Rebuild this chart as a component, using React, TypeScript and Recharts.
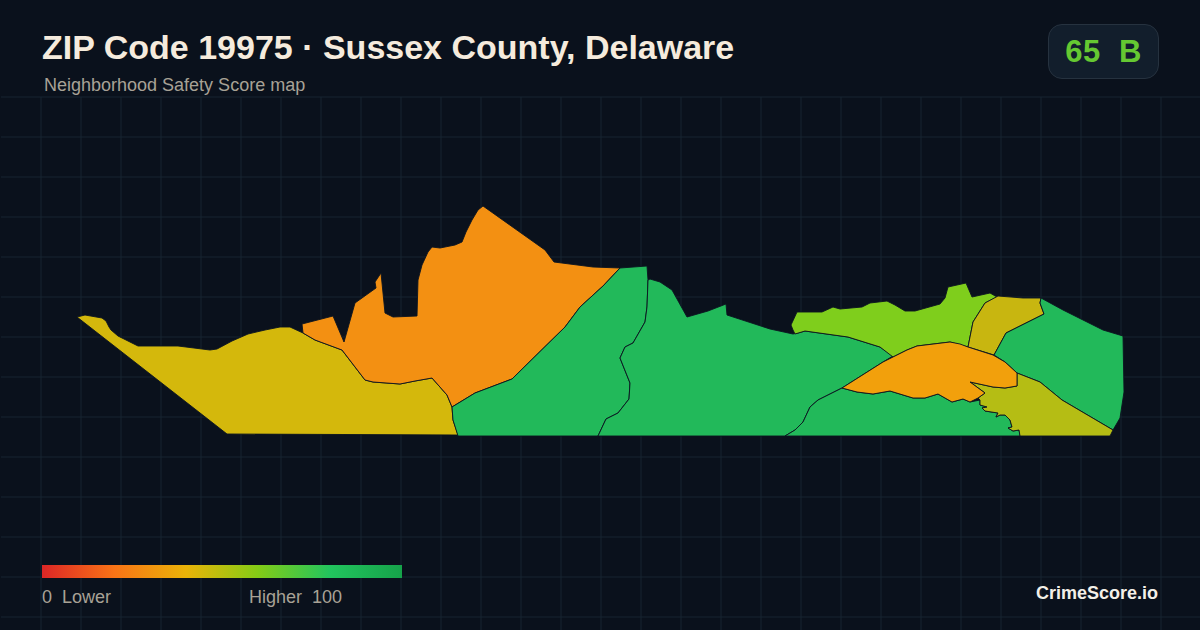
import { ComposedChart, Scatter, XAxis, YAxis, CartesianGrid } from 'recharts';

// map units: east, north
const westYellow = [[77,313],[85,315],[102,312],[106,309],[109,303],[111,300],[118,294],[138,284],[178,284],[210,280],[217,281],[232,289],[248,296],[265,300],[280,303],[290,303],[303,297],[315,290],[342,280],[365,250],[373,248],[400,246],[415,249],[432,252],[447,235],[452,223],[453,210],[458,195],[227,196]];
const northOrange = [[302,306],[333,314],[344,288],[355,327],[376,342],[375,348],[381,357],[385,317],[393,313],[417,314],[418,350],[422,365],[428,378],[432,383],[440,382],[455,385],[462,388],[466,398],[472,410],[478,420],[483,424],[545,380],[554,368],[593,363],[620,362],[603,344],[580,323],[565,303],[512,251],[475,237],[452,223],[447,235],[432,252],[415,249],[400,246],[373,248],[365,250],[342,280],[315,290],[303,297]];
const centerGreen = [[452,223],[475,237],[512,251],[565,303],[580,323],[603,344],[620,362],[647,364],[648,350],[647,323],[645,308],[633,287],[625,283],[620,272],[630,247],[629,231],[618,217],[606,211],[598,194],[458,194],[453,210]];
const midGreen = [[598,194],[606,211],[618,217],[629,231],[630,247],[620,272],[625,283],[633,287],[645,308],[647,323],[648,350],[650,351],[660,348],[672,340],[687,313],[708,319],[726,326],[727,315],[770,301],[793,296],[798,297],[805,299],[848,293],[880,283],[893,274],[883,268],[842,242],[818,230],[810,223],[803,208],[795,200],[785,194]];
const southGreen = [[785,194],[795,200],[803,208],[810,223],[818,230],[842,242],[857,238],[873,236],[890,239],[913,232],[925,232],[938,236],[952,228],[963,231],[970,228],[980,230],[980,225],[987,223],[982,222],[985,219],[998,217],[996,213],[1000,215],[1005,215],[1010,210],[1012,203],[1008,202],[1013,199],[1019,200],[1020,195],[1020,194]];
const shoreOlive = [[980,230],[978,232],[985,237],[970,248],[993,243],[1005,242],[1017,244],[1017,257],[1040,248],[1062,230],[1113,200],[1110,194],[1020,194],[1019,200],[1013,199],[1008,202],[1012,203],[1010,210],[1005,215],[1000,215],[996,213],[998,217],[985,219],[982,222],[987,223],[980,225]];
const bayOrange = [[842,242],[883,268],[893,273],[907,280],[917,284],[950,288],[960,286],[968,283],[993,275],[1005,268],[1017,257],[1017,244],[1005,242],[993,243],[970,248],[985,237],[978,232],[970,228],[963,231],[952,228],[938,236],[925,232],[913,232],[890,239],[873,236],[857,238]];
const northLime = [[793,300],[791,305],[797,318],[822,318],[833,323],[840,321],[862,323],[870,327],[887,329],[895,325],[905,319],[915,319],[940,326],[945,332],[948,343],[966,347],[972,333],[990,337],[997,333],[985,327],[973,308],[968,283],[950,288],[917,284],[907,280],[893,273],[880,283],[848,293],[805,299],[795,296]];
const northOlive = [[998,334],[1023,332],[1041,332],[1040,327],[1044,316],[1006,297],[994,275],[968,283],[973,308],[985,327]];
const eastGreen = [[1041,332],[1063,320],[1103,300],[1123,294],[1124,238],[1120,212],[1113,200],[1062,230],[1040,248],[1017,257],[1005,268],[994,275],[1006,297],[1044,316],[1040,327]];

const regions = [
  { name: 'westYellow', points: westYellow, color: '#d4b80c' },
  { name: 'northOrange', points: northOrange, color: '#f39012' },
  { name: 'centerGreen', points: centerGreen, color: '#22b95a' },
  { name: 'midGreen', points: midGreen, color: '#22b95a' },
  { name: 'southGreen', points: southGreen, color: '#22b95a' },
  { name: 'northLime', points: northLime, color: '#7fce1c' },
  { name: 'northOlive', points: northOlive, color: '#c8b610' },
  { name: 'eastGreen', points: eastGreen, color: '#22b95a' },
  { name: 'shoreOlive', points: shoreOlive, color: '#b5bd14' },
  { name: 'bayOrange', points: bayOrange, color: '#f2a00c' },
];

const gridEast = [1,41,81,121,161,201,241,281,321,361,401,441,481,521,561,601,641,681,721,761,801,841,881,921,961,1001,1041,1081,1121,1161];
const gridNorth = [533,493,453,413,373,333,293,253,213,173,133,93,53,13];

const toRows = (points: number[][]) => [...points, points[0]].map(([e, n]) => ({ e, n }));
const noDot = () => <g />;

const sans = '"Liberation Sans", Arial, sans-serif';

export default function App() {
  return (
    <div style={{ position: 'fixed', left: 0, top: 0, width: 1200, height: 630, background: '#0a111c', fontFamily: sans, overflow: 'hidden' }}>
      {/* half pixel shift keeps the 1px grid crisp */}
      <div style={{ position: 'absolute', left: 0.5, top: 0.5 }}>
        <ComposedChart width={1200} height={630} margin={{ top: 96, right: 0, bottom: 0, left: 0 }}>
          <CartesianGrid stroke="#162431" strokeWidth={1} verticalValues={gridEast} horizontalValues={gridNorth} />
          <XAxis type="number" dataKey="e" domain={[1, 1201]} hide />
          <YAxis type="number" dataKey="n" domain={[-1, 533]} hide />
          {regions.map((r) => (
            <Scatter
              key={r.name}
              data={toRows(r.points)}
              shape={noDot}
              line={{ fill: r.color, stroke: '#0b1420', strokeWidth: 0.9 }}
              isAnimationActive={false}
            />
          ))}
        </ComposedChart>
      </div>

      <div style={{ position: 'absolute', left: 42, top: 27, fontSize: 34, fontWeight: 700, color: '#f5ebdd', lineHeight: '40px', whiteSpace: 'nowrap' }}>
        ZIP Code 19975 · Sussex County, Delaware
      </div>
      <div style={{ position: 'absolute', left: 44, top: 75, fontSize: 18, color: '#a8a296', lineHeight: '20px', whiteSpace: 'nowrap' }}>
        Neighborhood Safety Score map
      </div>
      <div style={{ position: 'absolute', left: 1048, top: 24, width: 109, height: 53, background: '#121e2c', border: '1px solid #26323f', borderRadius: 14, color: '#65c832', fontSize: 31, fontWeight: 700, letterSpacing: 0.5, lineHeight: '53px', textAlign: 'center', whiteSpace: 'pre' }}>
        65  B
      </div>

      <div style={{ position: 'absolute', left: 42, top: 565, width: 360, height: 13, background: 'linear-gradient(90deg, #dc2626 0%, #f97316 20%, #eab308 40%, #84cc16 60%, #22c55e 80%, #16a34a 100%)' }} />
      <div style={{ position: 'absolute', left: 42, top: 587, fontSize: 18, color: '#a8a296', lineHeight: '20px', whiteSpace: 'pre' }}>0  Lower</div>
      <div style={{ position: 'absolute', left: 249, top: 587, fontSize: 18, color: '#a8a296', lineHeight: '20px', whiteSpace: 'pre' }}>Higher  100</div>
      <div style={{ position: 'absolute', right: 42, top: 583, fontSize: 18, fontWeight: 700, color: '#f3efe8', lineHeight: '20px', whiteSpace: 'nowrap' }}>CrimeScore.io</div>
    </div>
  );
}
